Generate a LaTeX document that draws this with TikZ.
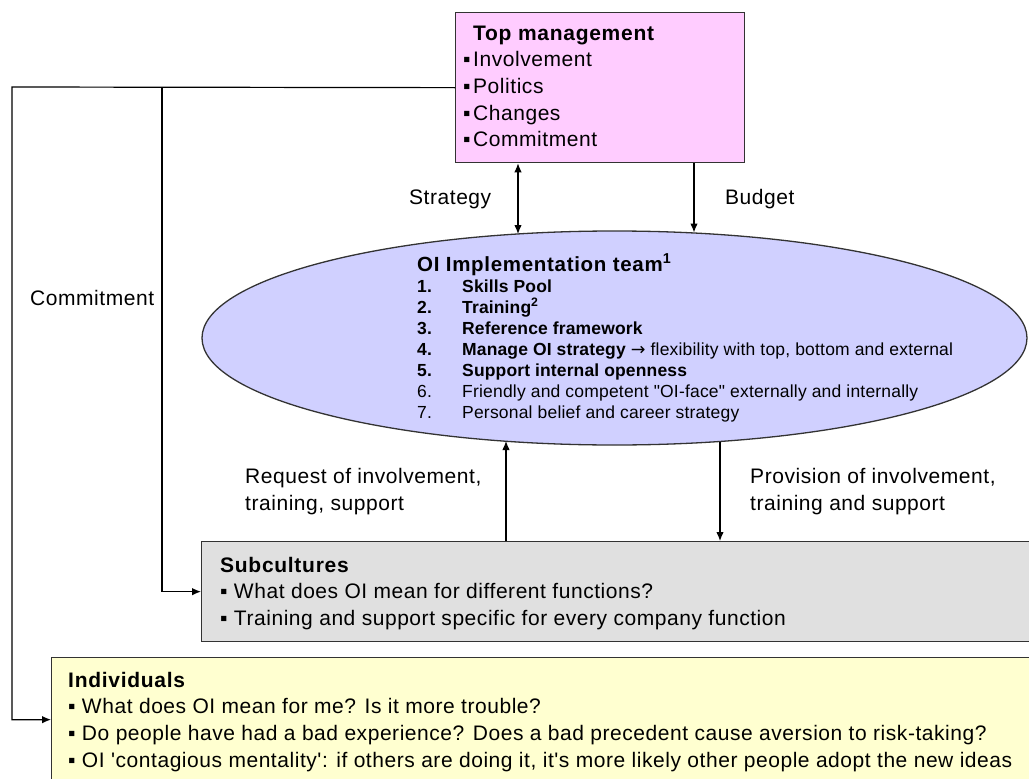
\documentclass[tikz,border=0pt]{standalone}
\usepackage{fontspec}
\setmainfont{Liberation Sans}
% plain families: straight quotes, slightly opened tracking
\newfontfamily\mainsans[LetterSpace=2.6, BoldFeatures={LetterSpace=3.4}]{Liberation Sans}
\newfontfamily\itemsans[LetterSpace=1.1, BoldFeatures={LetterSpace=0.8}]{Liberation Sans}
\newfontfamily\arrowfont{DejaVu Sans}
\usetikzlibrary{arrows.meta,shapes.geometric}

\definecolor{mgmtpink}{HTML}{FFCCFF}
\definecolor{teamblue}{HTML}{D0D0FF}
\definecolor{subgray}{HTML}{E0E0E0}
\definecolor{indyellow}{HTML}{FFFFD0}
\definecolor{edgegray}{HTML}{333333}

\newcommand\bodyfont{\mainsans\fontsize{21}{26.7}\selectfont}
\newcommand\labelfont{\mainsans\fontsize{21}{27}\selectfont}
\newcommand\itemfont{\itemsans\fontsize{17.5}{21}\selectfont}
\newcommand\sqbul{\makebox[10pt][l]{▪}}
\newcommand\itemno[1]{\makebox[45pt][l]{#1}}

\tikzset{
  box/.style={draw=edgegray, line width=1.3pt, rectangle, inner sep=0pt, anchor=north west},
  conn/.style={line width=1.2pt, -{Latex[length=9pt,width=7.5pt]}},
  biconn/.style={line width=1.2pt, {Latex[length=9pt,width=7.5pt]}-{Latex[length=9pt,width=7.5pt]}},
  txt/.style={inner sep=0pt, anchor=base west},
}

\begin{document}
\begin{tikzpicture}[x=1pt,y=-1pt]
\clip (0,0) rectangle (1029,779);
\fill[white] (0,0) rectangle (1029,779);

% boxes and the team ellipse
\node[box, fill=mgmtpink, minimum width=289pt, minimum height=150pt] (top) at (455,12) {};
\node[box, fill=subgray, minimum width=860pt, minimum height=100pt] (sub) at (201,541) {};
\node[box, fill=indyellow, minimum width=1010pt, minimum height=124pt] (ind) at (51,657) {};
\node[ellipse, draw=edgegray, line width=1.3pt, fill=teamblue, inner sep=0pt,
      minimum width=825pt, minimum height=214pt] (team) at (614.5,338) {};

% box contents
\node[txt] (toptext) at (463,40) {\bodyfont\begin{tabular}[t]{@{}l@{}}
  \hspace*{10pt}\textbf{Top management}\\
  \sqbul Involvement\\
  \sqbul Politics\\
  \sqbul Changes\\
  \sqbul Commitment
\end{tabular}};

\node[txt] (teamtext) at (417,271) {\itemfont\begin{tabular}[t]{@{}l@{}}
  {\mainsans\fontsize{20.5}{21}\selectfont\bfseries OI Implementation team\textsuperscript{1}}\\
  \itemno{\textbf{1.}}\textbf{Skills Pool}\\
  \itemno{\textbf{2.}}\textbf{Training\textsuperscript{2}}\\
  \itemno{\textbf{3.}}\textbf{Reference framework}\\
  \itemno{\textbf{4.}}\textbf{Manage OI strategy} {\arrowfont →} flexibility with top, bottom and external\\
  \itemno{\textbf{5.}}\textbf{Support internal openness}\\
  \itemno{6.}Friendly and competent "OI-face" externally and internally\\
  \itemno{7.}Personal belief and career strategy
\end{tabular}};

\node[txt] (subtext) at (220,572) {\bodyfont\begin{tabular}[t]{@{}l@{}}
  \textbf{Subcultures}\\
  ▪ What does OI mean for different functions?\\
  ▪ Training and support specific for every company function
\end{tabular}};

\node[txt] (indtext) at (68,687) {\bodyfont\begin{tabular}[t]{@{}l@{}}
  \textbf{Individuals}\\
  ▪ What does OI mean for me? Is it more trouble?\\
  ▪ Do people have had a bad experience? Does a bad precedent cause aversion to risk-taking?\\
  ▪ OI 'contagious mentality': if others are doing it, it's more likely other people adopt the new ideas
\end{tabular}};

% connector labels
\node[txt, font=\labelfont] (lstrat) at (409,204) {Strategy};
\node[txt, font=\labelfont] (lbudget) at (725,204) {Budget};
\node[txt, font=\labelfont] (lcommit) at (30,305) {Commitment};
\node[txt] (lreq) at (245,483) {\labelfont\begin{tabular}[t]{@{}l@{}}
  Request of involvement,\\ training, support\end{tabular}};
\node[txt] (lprov) at (750,483) {\labelfont\begin{tabular}[t]{@{}l@{}}
  Provision of involvement,\\ training and support\end{tabular}};

% connectors
\coordinate (cornerL) at (12,87);
\coordinate (branch) at (162,87);
\coordinate (stratEnd) at (518,234);
\coordinate (budgetEnd) at (694,232.5);
\coordinate (reqEnd) at (506,441);
\coordinate (provStart) at (720,441.5);

\draw[conn] (top.west) -- (cornerL) |- (ind.west);
\draw[conn] (branch) |- (sub.west);
\draw[biconn] (top.south -| stratEnd) -- (stratEnd);
\draw[conn] (top.south -| budgetEnd) -- (budgetEnd);
\draw[conn] (sub.north -| reqEnd) -- (reqEnd);
\draw[conn] (provStart) -- (sub.north -| provStart);
\end{tikzpicture}
\end{document}
